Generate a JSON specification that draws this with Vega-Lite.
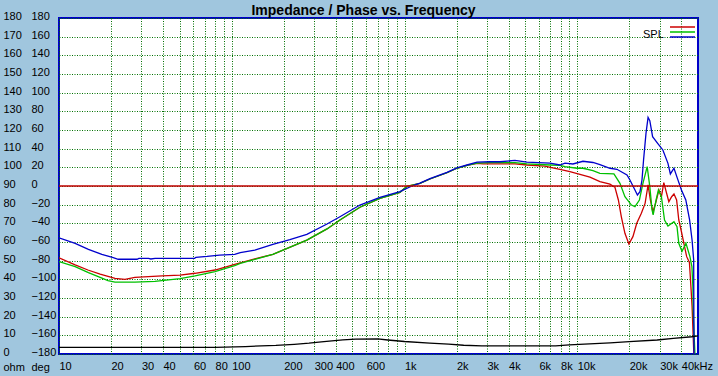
{
  "$schema": "https://vega.github.io/schema/vega-lite/v6.json",
  "width": 639,
  "height": 336,
  "autosize": {"type": "none"},
  "padding": {"left": 59, "top": 18, "right": 20, "bottom": 22},
  "background": "#A0C6DE",
  "title": {"text": "Impedance / Phase vs. Frequency", "font": "Liberation Sans", "fontSize": 14, "fontWeight": "bold", "color": "#000000", "anchor": "middle", "frame": "group", "offset": -7, "dx": -15},
  "config": {
    "view": {"fill": "#FFFFFF", "stroke": "#0000C8", "strokeWidth": 2},
    "font": "Liberation Sans",
    "axis": {"labelFont": "Liberation Sans", "labelFontSize": 11, "labelColor": "#000000", "ticks": false, "domain": false, "gridColor": "#007000", "gridDash": [1, 1.5], "gridOpacity": 1, "gridWidth": 1, "labelOverlap": false, "labelFlush": false, "titleFont": "Liberation Sans", "titleFontSize": 11, "titleFontWeight": "normal", "titleColor": "#000000"}
  },
  "layer": [
    {
      "data": {"values": [
        {"s": "SPL 1", "f": 10, "v": -77}, {"s": "SPL 1", "f": 12.4, "v": -84.6}, {"s": "SPL 1", "f": 14.7, "v": -90}, {"s": "SPL 1", "f": 17.3, "v": -94.3}, {"s": "SPL 1", "f": 21.1, "v": -98.9}, {"s": "SPL 1", "f": 24.1, "v": -100}, {"s": "SPL 1", "f": 27.5, "v": -97.8}, {"s": "SPL 1", "f": 39.5, "v": -96.4}, {"s": "SPL 1", "f": 50.2, "v": -95.4}, {"s": "SPL 1", "f": 61.3, "v": -93.5}, {"s": "SPL 1", "f": 80, "v": -90}, {"s": "SPL 1", "f": 104, "v": -83.9}, {"s": "SPL 1", "f": 136, "v": -78.2}, {"s": "SPL 1", "f": 173, "v": -73.2}, {"s": "SPL 1", "f": 272, "v": -57.9}, {"s": "SPL 1", "f": 356, "v": -46}, {"s": "SPL 1", "f": 423, "v": -36.4}, {"s": "SPL 1", "f": 552, "v": -22.8}, {"s": "SPL 1", "f": 721, "v": -13.2}, {"s": "SPL 1", "f": 941, "v": -6.8}, {"s": "SPL 1", "f": 1033, "v": -0.5}, {"s": "SPL 1", "f": 1229, "v": 2.9}, {"s": "SPL 1", "f": 1404, "v": 7.5}, {"s": "SPL 1", "f": 1761, "v": 14.2}, {"s": "SPL 1", "f": 2012, "v": 19}, {"s": "SPL 1", "f": 2300, "v": 22}, {"s": "SPL 1", "f": 2630, "v": 24.3}, {"s": "SPL 1", "f": 2850, "v": 23.6}, {"s": "SPL 1", "f": 4360, "v": 23.6}, {"s": "SPL 1", "f": 5110, "v": 22.5}, {"s": "SPL 1", "f": 6500, "v": 21.4}, {"s": "SPL 1", "f": 7430, "v": 19}, {"s": "SPL 1", "f": 7940, "v": 17.9}, {"s": "SPL 1", "f": 9070, "v": 15.4}, {"s": "SPL 1", "f": 10370, "v": 12.5}, {"s": "SPL 1", "f": 11840, "v": 9.5}, {"s": "SPL 1", "f": 13530, "v": 4.6}, {"s": "SPL 1", "f": 15460, "v": 2}, {"s": "SPL 1", "f": 16530, "v": -1.4}, {"s": "SPL 1", "f": 17300, "v": -15}, {"s": "SPL 1", "f": 18000, "v": -33}, {"s": "SPL 1", "f": 18880, "v": -50.7}, {"s": "SPL 1", "f": 19900, "v": -62.1}, {"s": "SPL 1", "f": 21000, "v": -54.3}, {"s": "SPL 1", "f": 22100, "v": -40}, {"s": "SPL 1", "f": 23500, "v": -29.3}, {"s": "SPL 1", "f": 24700, "v": -18.6}, {"s": "SPL 1", "f": 25700, "v": 1.1}, {"s": "SPL 1", "f": 26500, "v": -15}, {"s": "SPL 1", "f": 27400, "v": -27.5}, {"s": "SPL 1", "f": 28400, "v": -18.6}, {"s": "SPL 1", "f": 29700, "v": -4.3}, {"s": "SPL 1", "f": 30700, "v": -11.5}, {"s": "SPL 1", "f": 31700, "v": 3.6}, {"s": "SPL 1", "f": 32900, "v": -7.8}, {"s": "SPL 1", "f": 33900, "v": -16.8}, {"s": "SPL 1", "f": 35200, "v": -11.5}, {"s": "SPL 1", "f": 36300, "v": -8.6}, {"s": "SPL 1", "f": 37600, "v": -15}, {"s": "SPL 1", "f": 38700, "v": -36.4}, {"s": "SPL 1", "f": 40100, "v": -49}, {"s": "SPL 1", "f": 41800, "v": -65}, {"s": "SPL 1", "f": 43000, "v": -75.7}, {"s": "SPL 1", "f": 44600, "v": -82}, {"s": "SPL 1", "f": 45500, "v": -108}, {"s": "SPL 1", "f": 46200, "v": -129}, {"s": "SPL 1", "f": 47300, "v": -180},
        {"s": "SPL 2", "f": 10, "v": -81}, {"s": "SPL 2", "f": 12.4, "v": -86.4}, {"s": "SPL 2", "f": 14.8, "v": -92.9}, {"s": "SPL 2", "f": 17.3, "v": -97.8}, {"s": "SPL 2", "f": 19.2, "v": -101.4}, {"s": "SPL 2", "f": 21.1, "v": -102.9}, {"s": "SPL 2", "f": 27.5, "v": -102.9}, {"s": "SPL 2", "f": 35.9, "v": -102.1}, {"s": "SPL 2", "f": 50.2, "v": -99.3}, {"s": "SPL 2", "f": 61.3, "v": -96.4}, {"s": "SPL 2", "f": 80, "v": -91.8}, {"s": "SPL 2", "f": 104, "v": -85.4}, {"s": "SPL 2", "f": 112, "v": -82.8}, {"s": "SPL 2", "f": 136, "v": -78.5}, {"s": "SPL 2", "f": 173, "v": -73.2}, {"s": "SPL 2", "f": 272, "v": -57.9}, {"s": "SPL 2", "f": 356, "v": -46}, {"s": "SPL 2", "f": 423, "v": -36.4}, {"s": "SPL 2", "f": 552, "v": -22.8}, {"s": "SPL 2", "f": 721, "v": -13.2}, {"s": "SPL 2", "f": 941, "v": -6.8}, {"s": "SPL 2", "f": 1033, "v": -0.5}, {"s": "SPL 2", "f": 1229, "v": 2.9}, {"s": "SPL 2", "f": 1404, "v": 7.5}, {"s": "SPL 2", "f": 1761, "v": 14.2}, {"s": "SPL 2", "f": 2012, "v": 19}, {"s": "SPL 2", "f": 2300, "v": 22}, {"s": "SPL 2", "f": 2630, "v": 24.5}, {"s": "SPL 2", "f": 3120, "v": 25}, {"s": "SPL 2", "f": 4360, "v": 25}, {"s": "SPL 2", "f": 5110, "v": 23.6}, {"s": "SPL 2", "f": 6950, "v": 22.5}, {"s": "SPL 2", "f": 7940, "v": 22}, {"s": "SPL 2", "f": 8490, "v": 20.7}, {"s": "SPL 2", "f": 9960, "v": 19}, {"s": "SPL 2", "f": 10790, "v": 19}, {"s": "SPL 2", "f": 12330, "v": 16.4}, {"s": "SPL 2", "f": 13530, "v": 13.6}, {"s": "SPL 2", "f": 16300, "v": 12.9}, {"s": "SPL 2", "f": 17670, "v": 2.9}, {"s": "SPL 2", "f": 18880, "v": -11.5}, {"s": "SPL 2", "f": 20600, "v": -20.4}, {"s": "SPL 2", "f": 21580, "v": -22.1}, {"s": "SPL 2", "f": 22900, "v": -15}, {"s": "SPL 2", "f": 24000, "v": 2.9}, {"s": "SPL 2", "f": 25400, "v": 20.7}, {"s": "SPL 2", "f": 26300, "v": -0.7}, {"s": "SPL 2", "f": 27100, "v": -25.7}, {"s": "SPL 2", "f": 27500, "v": -31}, {"s": "SPL 2", "f": 28600, "v": -15}, {"s": "SPL 2", "f": 29500, "v": -4.3}, {"s": "SPL 2", "f": 30700, "v": -11.5}, {"s": "SPL 2", "f": 32000, "v": -36.4}, {"s": "SPL 2", "f": 33500, "v": -42.9}, {"s": "SPL 2", "f": 36300, "v": -38.2}, {"s": "SPL 2", "f": 37800, "v": -43.6}, {"s": "SPL 2", "f": 38700, "v": -61.4}, {"s": "SPL 2", "f": 40400, "v": -70}, {"s": "SPL 2", "f": 42600, "v": -61.4}, {"s": "SPL 2", "f": 44900, "v": -75.7}, {"s": "SPL 2", "f": 46100, "v": -86.4}, {"s": "SPL 2", "f": 46700, "v": -108}, {"s": "SPL 2", "f": 47000, "v": -140}, {"s": "SPL 2", "f": 48000, "v": -180},
        {"s": "SPL 3", "f": 10, "v": -55.5}, {"s": "SPL 3", "f": 12.4, "v": -61.4}, {"s": "SPL 3", "f": 14.8, "v": -67.8}, {"s": "SPL 3", "f": 17.7, "v": -73.2}, {"s": "SPL 3", "f": 20.6, "v": -76.8}, {"s": "SPL 3", "f": 22, "v": -78.5}, {"s": "SPL 3", "f": 28.3, "v": -78.5}, {"s": "SPL 3", "f": 29, "v": -77.5}, {"s": "SPL 3", "f": 33, "v": -77.5}, {"s": "SPL 3", "f": 34, "v": -78.2}, {"s": "SPL 3", "f": 36, "v": -77.5}, {"s": "SPL 3", "f": 61, "v": -77.5}, {"s": "SPL 3", "f": 62, "v": -76.4}, {"s": "SPL 3", "f": 72, "v": -75.5}, {"s": "SPL 3", "f": 85, "v": -74}, {"s": "SPL 3", "f": 104, "v": -73.3}, {"s": "SPL 3", "f": 112, "v": -71.5}, {"s": "SPL 3", "f": 136, "v": -68.6}, {"s": "SPL 3", "f": 173, "v": -62.5}, {"s": "SPL 3", "f": 217, "v": -57.5}, {"s": "SPL 3", "f": 272, "v": -51.8}, {"s": "SPL 3", "f": 356, "v": -40.7}, {"s": "SPL 3", "f": 423, "v": -32.9}, {"s": "SPL 3", "f": 552, "v": -20.4}, {"s": "SPL 3", "f": 721, "v": -12.1}, {"s": "SPL 3", "f": 941, "v": -6.1}, {"s": "SPL 3", "f": 1119, "v": 0.5}, {"s": "SPL 3", "f": 1229, "v": 3}, {"s": "SPL 3", "f": 1404, "v": 7.8}, {"s": "SPL 3", "f": 1761, "v": 14.6}, {"s": "SPL 3", "f": 2012, "v": 19.5}, {"s": "SPL 3", "f": 2300, "v": 22.5}, {"s": "SPL 3", "f": 2630, "v": 25.5}, {"s": "SPL 3", "f": 3120, "v": 26}, {"s": "SPL 3", "f": 3570, "v": 26}, {"s": "SPL 3", "f": 4360, "v": 27.5}, {"s": "SPL 3", "f": 5110, "v": 25.5}, {"s": "SPL 3", "f": 6950, "v": 24.5}, {"s": "SPL 3", "f": 7940, "v": 22.5}, {"s": "SPL 3", "f": 8490, "v": 24.5}, {"s": "SPL 3", "f": 9440, "v": 23.6}, {"s": "SPL 3", "f": 10790, "v": 26.5}, {"s": "SPL 3", "f": 12330, "v": 25.2}, {"s": "SPL 3", "f": 13530, "v": 23}, {"s": "SPL 3", "f": 15460, "v": 19}, {"s": "SPL 3", "f": 16970, "v": 17.9}, {"s": "SPL 3", "f": 19400, "v": 11.8}, {"s": "SPL 3", "f": 20180, "v": 6.4}, {"s": "SPL 3", "f": 21580, "v": -4.3}, {"s": "SPL 3", "f": 22300, "v": -9.6}, {"s": "SPL 3", "f": 23070, "v": -6.1}, {"s": "SPL 3", "f": 23700, "v": 6.4}, {"s": "SPL 3", "f": 24200, "v": 27.9}, {"s": "SPL 3", "f": 25000, "v": 56.4}, {"s": "SPL 3", "f": 25700, "v": 73.6}, {"s": "SPL 3", "f": 26300, "v": 70}, {"s": "SPL 3", "f": 27300, "v": 52.9}, {"s": "SPL 3", "f": 29200, "v": 45.7}, {"s": "SPL 3", "f": 31300, "v": 38.6}, {"s": "SPL 3", "f": 33500, "v": 24.3}, {"s": "SPL 3", "f": 34600, "v": 12.9}, {"s": "SPL 3", "f": 36300, "v": 19}, {"s": "SPL 3", "f": 38000, "v": 8.2}, {"s": "SPL 3", "f": 40100, "v": -4.3}, {"s": "SPL 3", "f": 42500, "v": -15}, {"s": "SPL 3", "f": 44700, "v": -36.4}, {"s": "SPL 3", "f": 46200, "v": -57.9}, {"s": "SPL 3", "f": 47200, "v": -79.3}, {"s": "SPL 3", "f": 47400, "v": -180}
      ]},
      "mark": {"type": "line", "strokeWidth": 1.3, "clip": true},
      "encoding": {
        "x": {"field": "f", "type": "quantitative", "scale": {"type": "log", "domain": [10, 50000], "nice": false},
          "axis": {"title": null, "values": [10, 20, 30, 40, 50, 60, 70, 80, 90, 100, 200, 300, 400, 500, 600, 700, 800, 900, 1000, 2000, 3000, 4000, 5000, 6000, 7000, 8000, 9000, 10000, 20000, 30000, 40000],
            "labelExpr": "indexof([50,70,90,500,700,800,900,5000,7000,9000], datum.value) >= 0 ? '' : datum.value == 40000 ? '40kHz' : datum.value >= 1000 ? (datum.value / 1000) + 'k' : '' + datum.value",
            "labelAlign": "left", "labelBaseline": "top", "labelPadding": 6, "grid": true}},
        "y": {"field": "v", "type": "quantitative", "scale": {"domain": [-180, 180], "nice": false},
          "axis": {"orient": "left", "values": [-180, -160, -140, -120, -100, -80, -60, -40, -20, 0, 20, 40, 60, 80, 100, 120, 140, 160, 180], "labelAlign": "left", "labelBaseline": "middle", "labelPadding": 28, "labelOffset": -1.5, "grid": true,
            "title": "deg", "titleAngle": 0, "titleX": -28, "titleY": 349, "titleAlign": "left", "titleBaseline": "middle"}},
        "color": {"field": "s", "type": "nominal", "scale": {"domain": ["SPL 1", "SPL 2", "SPL 3"], "range": ["#CC0000", "#00C000", "#0000CC"]},
          "legend": {"orient": "none", "legendX": 584, "legendY": 7, "title": "SPL", "titleOrient": "left", "titleAnchor": "end", "labelExpr": "''", "symbolType": "M-12.5,0H12.5", "symbolSize": 4, "symbolOffset": 11.5, "symbolStrokeWidth": 1.5, "symbolFillColor": "transparent", "rowPadding": -7, "titleFontSize": 11, "titleFontWeight": "normal", "titleColor": "#000000", "titlePadding": 5, "labelFontSize": 1, "labelOffset": 0, "padding": 0}}
      }
    },
    {
      "data": {"values": [{}]},
      "mark": {"type": "rule", "color": "#C00000", "strokeWidth": 1.3},
      "encoding": {"y": {"datum": 0, "scale": {"domain": [-180, 180], "nice": false}, "axis": null}}
    },
    {
      "data": {"values": [
        {"f": 10, "ohm": 3.6}, {"f": 80, "ohm": 3.6}, {"f": 120, "ohm": 4.0}, {"f": 180, "ohm": 4.6}, {"f": 230, "ohm": 5.2}, {"f": 280, "ohm": 5.8}, {"f": 330, "ohm": 6.5}, {"f": 380, "ohm": 7.0}, {"f": 440, "ohm": 7.6}, {"f": 520, "ohm": 8.0}, {"f": 700, "ohm": 8.05}, {"f": 800, "ohm": 7.5}, {"f": 1000, "ohm": 6.7}, {"f": 1400, "ohm": 5.8}, {"f": 1800, "ohm": 5.3}, {"f": 2200, "ohm": 4.7}, {"f": 2800, "ohm": 4.3}, {"f": 5000, "ohm": 4.3}, {"f": 7500, "ohm": 4.4}, {"f": 9000, "ohm": 4.9}, {"f": 11000, "ohm": 5.3}, {"f": 15500, "ohm": 6.0}, {"f": 20000, "ohm": 6.6}, {"f": 29000, "ohm": 7.5}, {"f": 36000, "ohm": 8.4}, {"f": 46000, "ohm": 9.25}, {"f": 50000, "ohm": 9.7}
      ]},
      "mark": {"type": "line", "color": "#000000", "strokeWidth": 1.3, "clip": true},
      "encoding": {
        "x": {"field": "f", "type": "quantitative", "scale": {"type": "log", "domain": [10, 50000], "nice": false}},
        "y": {"field": "ohm", "type": "quantitative", "scale": {"domain": [0, 180], "nice": false},
          "axis": {"orient": "left", "values": [0, 10, 20, 30, 40, 50, 60, 70, 80, 90, 100, 110, 120, 130, 140, 150, 160, 170, 180], "labelAlign": "left", "labelBaseline": "middle", "labelPadding": 56, "labelOffset": -1.5, "grid": false,
            "title": "ohm", "titleAngle": 0, "titleX": -56, "titleY": 349, "titleAlign": "left", "titleBaseline": "middle"}}
      }
    }
  ],
  "resolve": {"scale": {"y": "independent"}, "axis": {"y": "independent"}}
}
